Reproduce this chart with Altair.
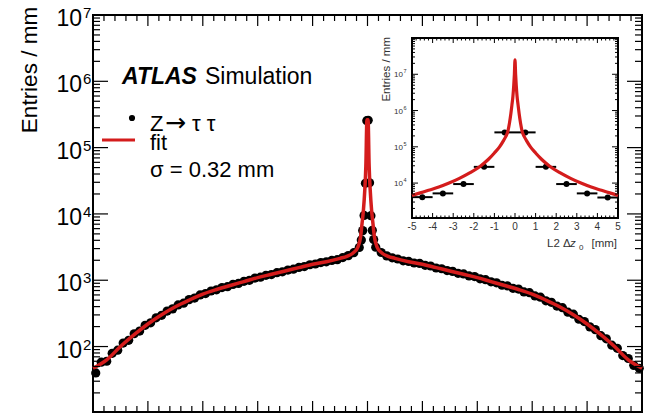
import altair as alt
import pandas as pd

FONT = "Liberation Sans"
RED = "#d41c1c"

# ---------------- main panel data ----------------
peak_x = [-4.5, -3.5, -2.5, -1.5, -0.5, 0.5, 1.5, 2.5, 3.5, 4.5]
peak_y = [4050, 5600, 9500, 29000, 255000, 258000, 29500, 9400, 5650, 4100]

left_x = list(range(-198, -5, 4))
left_y = [40, 58, 60, 79, 88, 113, 124, 156, 171, 209, 228, 271, 296, 343, 370,
          424, 450, 510, 538, 600, 630, 688, 716, 775, 800, 866, 895, 962, 998, 1078,
          1110, 1186, 1218, 1300, 1338, 1425, 1466, 1560, 1610, 1712, 1758, 1850, 1893,
          1990, 2040, 2200, 2350, 2600, 3120]
right_x = list(range(6, 199, 4))
right_y = [3150, 2620, 2330, 2180, 2090, 1960, 1920, 1820, 1790, 1680, 1640, 1530,
           1490, 1400, 1360, 1270, 1245, 1160, 1135, 1050, 1020, 945, 915, 840, 820,
           755, 735, 665, 648, 580, 556, 490, 465, 408, 385, 330, 308, 258, 238, 198,
           180, 146, 131, 105, 94, 73, 66, 52, 47]

fit_x = [-200, -190, -180, -170, -160, -150, -140, -130, -120, -110, -100, -90, -80,
         -70, -60, -50, -40, -30, -20, -15, -10, -7, -5, -4, -3, -2, -1.2, -0.4,
         0.4, 1.2, 2, 3, 4, 5, 7, 10, 15, 20, 30, 40, 50, 60, 70, 80, 90, 100, 110,
         120, 130, 140, 150, 160, 170, 180, 190, 200]
fit_y = [47, 63, 100, 151, 219, 302, 398, 501, 617, 724, 832, 955, 1096, 1230, 1380,
         1549, 1738, 1905, 2140, 2290, 2630, 3160, 4570, 7080, 11200, 22400, 52500,
         263000, 263000, 52500, 22400, 11200, 7080, 4570, 3160, 2630, 2290, 2140, 1905,
         1738, 1549, 1380, 1230, 1096, 955, 832, 724, 617, 501, 398, 302, 219, 151, 100,
         63, 47]

main_ylabels = [100, 1e3, 1e4, 1e5, 1e6, 1e7]
main_yexp = ["2", "3", "4", "5", "6", "7"]

# ---------------- inset data ----------------
in_x = [-4.5, -3.5, -2.5, -1.5, -0.5, 0.5, 1.5, 2.5, 3.5, 4.5]
in_y = [4100, 5200, 9400, 28000, 250000, 250000, 28000, 9400, 5200, 4000]

ifit_x = [-5, -4.6, -4.2, -3.7, -3.2, -2.7, -2.2, -1.7, -1.3, -1.0, -0.75, -0.55, -0.45,
          -0.35, -0.27, -0.2, -0.15, -0.1, -0.06, -0.03, 0, 0.03, 0.06, 0.1, 0.15, 0.2,
          0.27, 0.35, 0.45, 0.55, 0.75, 1.0, 1.3, 1.7, 2.2, 2.7, 3.2, 3.7, 4.2, 4.6, 5]
ifit_y = [4570, 5370, 6310, 7760, 10000, 13500, 19100, 28800, 44700, 67600, 100000,
          151000, 191000, 263000, 447000, 830000, 1410000, 2510000, 5010000, 10000000,
          25100000, 10000000, 5010000, 2510000, 1410000, 830000, 447000, 263000, 191000,
          151000, 100000, 67600, 44700, 28800, 19100, 13500, 10000, 7760, 6310, 5370, 4570]

in_xlabels = [-5, -4, -3, -2, -1, 0, 1, 2, 3, 4, 5]
in_ylabels = [1e4, 1e5, 1e6, 1e7]
in_yexp = ["4", "5", "6", "7"]

W, H = 549, 397
IX0, IX1, IY0, IY1 = 319, 525, 23, 203

# ---------------- scales ----------------
def mx(f):
    return alt.X(f, type="quantitative", axis=None,
                 scale=alt.Scale(domain=[-200, 200], nice=False, zero=False))

def my(f):
    return alt.Y(f, type="quantitative", axis=None,
                 scale=alt.Scale(type="log", domain=[10.3, 1e7], nice=False))

def ix(f):
    return alt.X(f, type="quantitative", axis=None,
                 scale=alt.Scale(domain=[-5, 5], range=[IX0, IX1], nice=False, zero=False))

def iy(f):
    return alt.Y(f, type="quantitative", axis=None,
                 scale=alt.Scale(type="log", domain=[1090, 1e8], range=[IY1, IY0], nice=False))

def txt(s, x, y, size, **kw):
    d = pd.DataFrame({"t": [s]})
    return alt.Chart(d).mark_text(font=kw.pop("font", FONT), fontSize=size, align=kw.pop("align", "left"),
                                  baseline=kw.pop("baseline", "alphabetic"), **kw).encode(
        text="t:N", x=alt.value(x), y=alt.value(y))

layers = []

# main data
main_pts = pd.DataFrame({"x": left_x + peak_x + right_x, "y": left_y + peak_y + right_y})
layers.append(alt.Chart(main_pts).mark_circle(color="black", opacity=1, size=85).encode(
    x=mx("x"), y=my("y")))
layers.append(alt.Chart(pd.DataFrame({"x": fit_x, "y": fit_y})).mark_line(
    color=RED, strokeWidth=3.5, interpolate="monotone").encode(x=mx("x"), y=my("y"), order="x:Q"))

# main ticks
ymaj = pd.DataFrame({"v": [1e2, 1e3, 1e4, 1e5, 1e6]})
ymin = pd.DataFrame({"v": [m * 10 ** k for k in range(1, 7) for m in range(2, 10)]})
xmaj = pd.DataFrame({"v": list(range(-200, 201, 40))})
xmin = pd.DataFrame({"v": [v for v in range(-200, 201, 8) if v % 40]})
for d, L in [(ymaj, 15), (ymin, 7)]:
    layers.append(alt.Chart(d).mark_rule(color="black", strokeWidth=1.2).encode(
        y=my("v"), x=alt.value(0), x2=alt.value(L)))
    layers.append(alt.Chart(d).mark_rule(color="black", strokeWidth=1.2).encode(
        y=my("v"), x=alt.value(W), x2=alt.value(W - L)))
for d, L in [(xmaj, 11), (xmin, 6)]:
    layers.append(alt.Chart(d).mark_rule(color="black", strokeWidth=1.2).encode(
        x=mx("v"), y=alt.value(H), y2=alt.value(H - L)))
    layers.append(alt.Chart(d).mark_rule(color="black", strokeWidth=1.2).encode(
        x=mx("v"), y=alt.value(0), y2=alt.value(L)))

# main y tick labels
yl = pd.DataFrame({"v": main_ylabels, "b": ["10"] * 6, "e": main_yexp})
layers.append(alt.Chart(yl).mark_text(font=FONT, fontSize=23, align="right", baseline="alphabetic",
                                      dy=11).encode(y=my("v"), x=alt.value(-11), text="b:N"))
layers.append(alt.Chart(yl).mark_text(font=FONT, fontSize=15, align="left", baseline="alphabetic",
                                      dy=3).encode(y=my("v"), x=alt.value(-10), text="e:N"))

# y title
layers.append(txt("Entries / mm", -56, 55, 22.5, angle=270, align="center"))

# legend / labels
layers.append(txt("ATLAS", 29, 69, 23, fontWeight="bold", fontStyle="italic"))
layers.append(txt("Simulation", 112, 69, 23))
layers.append(alt.Chart(pd.DataFrame({"a": [0]})).mark_circle(color="black", opacity=1, size=38).encode(
    x=alt.value(39), y=alt.value(103)))
layers.append(txt("Z", 57, 116, 22))
layers.append(txt("\u2192", 72, 116, 25, font="DejaVu Sans"))
layers.append(txt("\u03c4 \u03c4", 99, 116, 22))
layers.append(alt.Chart(pd.DataFrame({"a": [0]})).mark_rule(color=RED, strokeWidth=3).encode(
    x=alt.value(9), x2=alt.value(42), y=alt.value(125)))
layers.append(txt("fit", 57, 135, 22))
layers.append(txt("\u03c3 = 0.32 mm", 57, 162, 22))

# ---------------- inset ----------------
layers.append(alt.Chart(pd.DataFrame({"a": [0]})).mark_rect(fill="white", stroke="black", strokeWidth=2).encode(
    x=alt.value(IX0), x2=alt.value(IX1), y=alt.value(IY0), y2=alt.value(IY1)))
ip = pd.DataFrame({"x": in_x, "y": in_y, "lo": [v - 0.5 for v in in_x], "hi": [v + 0.5 for v in in_x]})
layers.append(alt.Chart(ip).mark_rule(color="black", strokeWidth=2).encode(
    x=ix("lo"), x2="hi", y=iy("y")))
layers.append(alt.Chart(ip).mark_circle(color="black", opacity=1, size=36).encode(x=ix("x"), y=iy("y")))
layers.append(alt.Chart(pd.DataFrame({"x": ifit_x, "y": ifit_y})).mark_line(
    color=RED, strokeWidth=3.2, interpolate="monotone").encode(x=ix("x"), y=iy("y"), order="x:Q"))

ixmaj = pd.DataFrame({"v": in_xlabels})
ixmin = pd.DataFrame({"v": [round(-5 + 0.2 * i, 1) for i in range(51) if i % 5]})
iymaj = pd.DataFrame({"v": in_ylabels})
iymin = pd.DataFrame({"v": [m * 10 ** k for k in range(3, 8) for m in range(2, 10) if m * 10 ** k > 1090]})
for d, L in [(ixmaj, 5), (ixmin, 2.5)]:
    layers.append(alt.Chart(d).mark_rule(color="black", strokeWidth=1).encode(
        x=ix("v"), y=alt.value(IY1), y2=alt.value(IY1 - L)))
    layers.append(alt.Chart(d).mark_rule(color="black", strokeWidth=1).encode(
        x=ix("v"), y=alt.value(IY0), y2=alt.value(IY0 + L)))
for d, L in [(iymaj, 6), (iymin, 3)]:
    layers.append(alt.Chart(d).mark_rule(color="black", strokeWidth=1).encode(
        y=iy("v"), x=alt.value(IX0), x2=alt.value(IX0 + L)))
    layers.append(alt.Chart(d).mark_rule(color="black", strokeWidth=1).encode(
        y=iy("v"), x=alt.value(IX1), x2=alt.value(IX1 - L)))

ixl = pd.DataFrame({"v": in_xlabels, "t": [str(v) for v in in_xlabels]})
layers.append(alt.Chart(ixl).mark_text(font=FONT, fontSize=10, color="#333", align="center",
                                       baseline="alphabetic").encode(x=ix("v"), y=alt.value(215), text="t:N"))
iyl = pd.DataFrame({"v": in_ylabels, "b": ["10"] * 4, "e": in_yexp})
layers.append(alt.Chart(iyl).mark_text(font=FONT, fontSize=8, color="#333", align="right",
                                       baseline="alphabetic", dy=3).encode(y=iy("v"), x=alt.value(310), text="b:N"))
layers.append(alt.Chart(iyl).mark_text(font=FONT, fontSize=5.5, color="#333", align="left",
                                       baseline="alphabetic", dy=-1).encode(y=iy("v"), x=alt.value(310.5), text="e:N"))
layers.append(txt("Entries / mm", 297, 22, 11.5, angle=270, align="right", color="#333"))
layers.append(txt("L2 \u0394", 454, 232, 11.5, color="#333"))
layers.append(txt("z", 477, 232, 11.5, fontStyle="italic", color="#333"))
layers.append(txt("0", 486, 235, 8, color="#333"))
layers.append(txt("[mm]", 524, 232, 11.5, align="right", color="#333"))

chart = alt.layer(*layers).resolve_scale(x="independent", y="independent").properties(
    width=W, height=H, autosize="none",
    padding={"left": 93, "top": 15, "right": 11, "bottom": 3},
    background="white",
).configure_view(stroke="black", strokeWidth=2)

chart.save("out.html", embed_options={"renderer": "svg", "actions": False})
